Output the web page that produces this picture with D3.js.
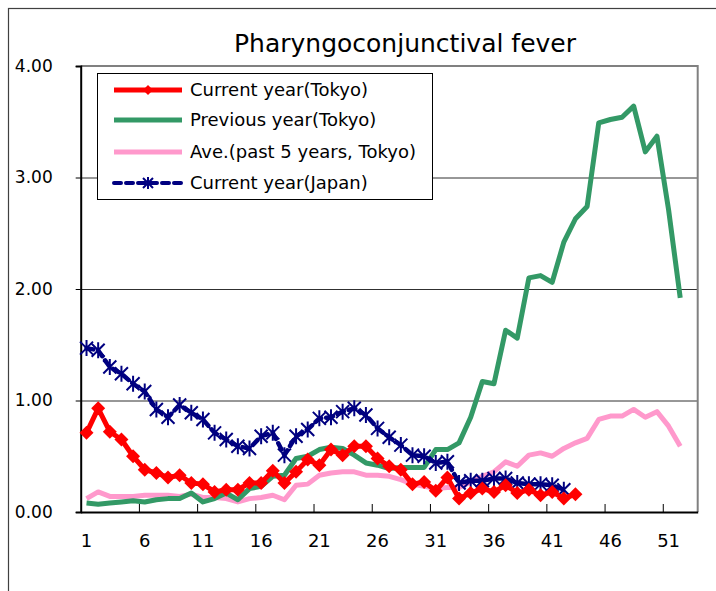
<!DOCTYPE html>
<html>
<head>
<meta charset="utf-8">
<script src="https://cdn.jsdelivr.net/npm/d3@7"></script>
<style>
  body { margin: 0; background: #fff; }
  svg text { font-family: "DejaVu Sans", sans-serif; fill: #000; }
</style>
</head>
<body>
<div id="chart"></div>
<script>
// weeks 1..53 on the category axis
const weeks = d3.range(1, 54)
const weekLabels = [1, 6, 11, 16, 21, 26, 31, 36, 41, 46, 51]
const yTicks = [0, 1, 2, 3, 4]

const currentTokyo = [0.71,0.93,0.72,0.65,0.50,0.38,0.35,0.31,0.33,0.26,0.25,0.18,0.20,0.20,0.26,0.26,0.37,0.26,0.36,0.47,
  0.42,0.56,0.51,0.59,0.59,0.48,0.41,0.38,0.25,0.27,0.19,0.31,0.12,0.17,0.21,0.18,0.24,0.17,0.20,0.15,
  0.18,0.12,0.16]
const previousTokyo = [0.08,0.07,0.08,0.09,0.10,0.09,0.11,0.12,0.12,0.17,0.09,0.12,0.17,0.11,0.21,0.23,0.32,0.33,0.48,0.50,
  0.56,0.58,0.57,0.51,0.44,0.42,0.39,0.40,0.40,0.40,0.56,0.56,0.62,0.85,1.17,1.15,1.63,1.56,2.10,2.12,
  2.06,2.42,2.63,2.74,3.49,3.52,3.54,3.64,3.23,3.37,2.71,1.92]
const avgTokyo = [0.12,0.18,0.14,0.14,0.14,0.15,0.15,0.15,0.14,0.16,0.13,0.13,0.12,0.09,0.12,0.13,0.15,0.11,0.24,0.25,
  0.33,0.35,0.36,0.36,0.33,0.33,0.32,0.29,0.25,0.23,0.21,0.22,0.22,0.27,0.32,0.36,0.45,0.41,0.51,0.53,
  0.50,0.57,0.62,0.66,0.83,0.86,0.86,0.92,0.85,0.90,0.77,0.59]
const currentJapan = [1.47,1.45,1.30,1.24,1.15,1.08,0.92,0.85,0.96,0.89,0.83,0.71,0.65,0.59,0.57,0.68,0.71,0.51,0.68,0.74,
  0.84,0.85,0.90,0.93,0.87,0.75,0.67,0.60,0.51,0.50,0.44,0.45,0.26,0.28,0.28,0.30,0.30,0.26,0.25,0.25,
  0.24,0.20]

const seriesNames = ['Current year(Tokyo)', 'Previous year(Tokyo)', 'Ave.(past 5 years, Tokyo)', 'Current year(Japan)']

const w = 716
const h = 591
const pLeft = 80.7, pRight = 697.7, pTop = 66, pBottom = 512

const svg = d3.select('#chart')
              .append('svg')
              .attr('width', w)
              .attr('height', h)

// outer chart border
svg.append('rect')
   .attr('x', 8.5).attr('y', 8.5)
   .attr('width', 760).attr('height', 700)
   .attr('fill', 'none')
   .attr('stroke', '#404040')
   .attr('stroke-width', 1.2)

svg.append('text')
   .attr('x', 405)
   .attr('y', 52)
   .attr('text-anchor', 'middle')
   .style('font-size', '25px')
   .text('Pharyngoconjunctival fever')

const x = d3.scaleBand().domain(weeks).range([pLeft, pRight]).padding(0)
const xb = d3.scaleLinear().domain([0, 53]).range([pLeft, pRight])
const y = d3.scaleLinear().domain([0, 4]).range([pBottom, pTop])
const cx = d => x(d) + x.bandwidth() / 2

// grid lines
svg.append('g')
   .attr('transform', 'translate(' + pLeft + ',0)')
   .call(d3.axisLeft(y).tickValues([1, 2, 3]).tickSize(-(pRight - pLeft)).tickFormat(''))
   .call(g => g.select('.domain').remove())
   .selectAll('line').attr('stroke', '#303030').attr('stroke-width', 1)

// plot frame top / right
svg.append('path')
   .attr('d', 'M' + pLeft + ',' + pTop + 'H' + pRight + 'V' + pBottom)
   .attr('fill', 'none')
   .attr('stroke', '#808080')
   .attr('stroke-width', 2)

// y axis
const yAxis = svg.append('g')
   .attr('transform', 'translate(' + pLeft + ',0)')
   .call(d3.axisLeft(y).tickValues(yTicks).tickSize(5).tickPadding(23).tickFormat(d3.format('.2f')))
yAxis.select('.domain').attr('stroke', '#000').attr('stroke-width', 2)
yAxis.selectAll('text').style('font-size', '17px')

// x axis: tick marks between categories
const xTickAxis = svg.append('g')
   .attr('transform', 'translate(0,' + pBottom + ')')
   .call(d3.axisBottom(xb).tickValues(d3.range(5, 53, 5)).tickSizeInner(-8).tickSizeOuter(0).tickFormat(''))
xTickAxis.select('.domain').attr('stroke', '#000').attr('stroke-width', 2)

// x axis: category labels
const xLabAxis = svg.append('g')
   .attr('transform', 'translate(0,' + pBottom + ')')
   .call(d3.axisBottom(x).tickValues(weekLabels).tickSize(0).tickPadding(22))
xLabAxis.select('.domain').remove()
xLabAxis.selectAll('text').style('font-size', '18px')

const line = d3.line().x((d, i) => cx(weeks[i])).y(d => y(d))

const diamond = 'M0,-7L7,0L0,7L-7,0Z'
const star = 'M-6.5,-6.5L6.5,6.5M-6.5,6.5L6.5,-6.5M0,-8L0,8'

// pink average
svg.append('path').datum(avgTokyo)
   .attr('d', line).attr('fill', 'none')
   .attr('stroke', '#ff99cc').attr('stroke-width', 5).attr('stroke-linejoin', 'round')

// green previous year
svg.append('path').datum(previousTokyo)
   .attr('d', line).attr('fill', 'none')
   .attr('stroke', '#339966').attr('stroke-width', 5).attr('stroke-linejoin', 'round')

// navy japan
svg.append('path').datum(currentJapan)
   .attr('d', line).attr('fill', 'none')
   .attr('stroke', '#000080').attr('stroke-width', 4.5)
   .attr('stroke-dasharray', '7,5').attr('stroke-linecap', 'round')
svg.selectAll('.star')
   .data(currentJapan)
   .enter()
   .append('path')
   .attr('class', 'star')
   .attr('d', star)
   .attr('transform', (d, i) => 'translate(' + cx(weeks[i]) + ',' + y(d) + ')')
   .attr('stroke', '#000080').attr('stroke-width', 2).attr('fill', 'none')

// red current year
svg.append('path').datum(currentTokyo)
   .attr('d', line).attr('fill', 'none')
   .attr('stroke', '#ff0000').attr('stroke-width', 5).attr('stroke-linejoin', 'round')
svg.selectAll('.dia')
   .data(currentTokyo)
   .enter()
   .append('path')
   .attr('class', 'dia')
   .attr('d', diamond)
   .attr('transform', (d, i) => 'translate(' + cx(weeks[i]) + ',' + y(d) + ')')
   .attr('fill', '#ff0000')

// legend
const legend = svg.append('g')
legend.append('rect')
   .attr('x', 97.5).attr('y', 73.5)
   .attr('width', 335).attr('height', 126)
   .attr('fill', '#fff').attr('stroke', '#000').attr('stroke-width', 1)

const legRows = [90, 120, 152, 183]
const legColors = ['#ff0000', '#339966', '#ff99cc', '#000080']
seriesNames.forEach((name, i) => {
  const ly = legRows[i]
  const l = legend.append('line')
     .attr('x1', 114).attr('x2', 182).attr('y1', ly).attr('y2', ly)
     .attr('stroke', legColors[i]).attr('stroke-width', i === 3 ? 4 : 5)
  if (i === 3) l.attr('stroke-dasharray', '7,5').attr('stroke-linecap', 'round')
  if (i === 0) legend.append('path').attr('d', 'M0,-5L5,0L0,5L-5,0Z').attr('transform', 'translate(148,' + ly + ')').attr('fill', '#ff0000')
  if (i === 3) legend.append('path').attr('d', 'M-5,-5L5,5M-5,5L5,-5M0,-6L0,6').attr('transform', 'translate(148,' + ly + ')').attr('stroke', '#000080').attr('stroke-width', 2)
  legend.append('text')
     .attr('x', 190).attr('y', ly + 6)
     .style('font-size', '18px')
     .text(name)
})
</script>
</body>
</html>
